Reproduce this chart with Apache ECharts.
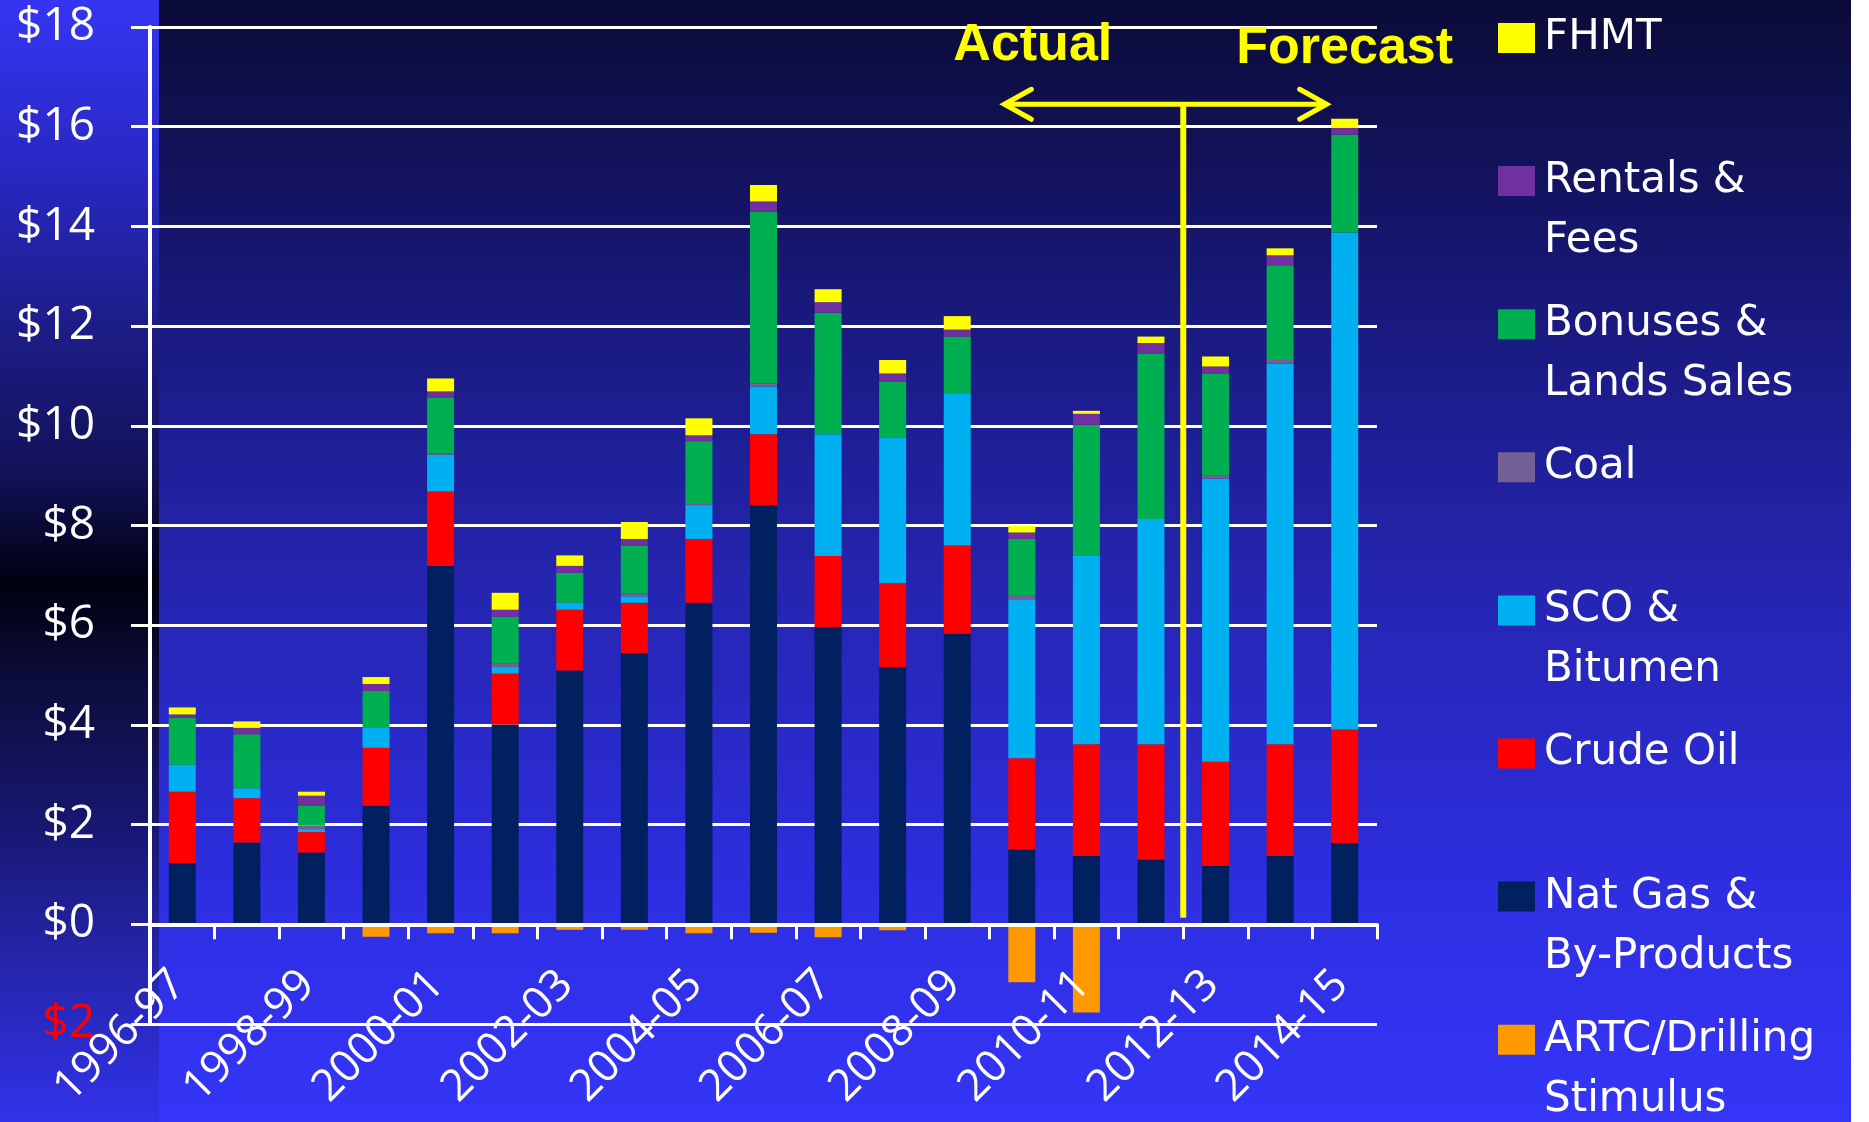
<!DOCTYPE html>
<html>
<head>
<meta charset="utf-8">
<script src="https://cdn.jsdelivr.net/npm/echarts@6/dist/echarts.min.js"></script>
<style>
html,body{margin:0;padding:0;background:#ffffff;}
#main{width:1869px;height:1122px;}
</style>
</head>
<body>
<div id="main"></div>
<script>
// ---- data ----
const categories = ['1996-97','1997-98','1998-99','1999-00','2000-01','2001-02','2002-03','2003-04','2004-05','2005-06','2006-07','2007-08','2008-09','2009-10','2010-11','2011-12','2012-13','2013-14','2014-15'];
const natGas     = [1.23,1.64,1.44,2.38,7.19,4.01,5.09,5.44,6.45,8.41,5.96,5.16,5.83,1.50,1.37,1.30,1.17,1.37,1.63];
const crudeOil   = [1.43,0.89,0.41,1.16,1.49,1.02,1.22,1.01,1.28,1.42,1.43,1.68,1.77,1.83,2.24,2.31,2.09,2.24,2.28];
const scoBitumen = [0.54,0.20,0.06,0.40,0.74,0.13,0.14,0.13,0.68,0.96,2.44,2.92,3.04,3.19,3.79,4.52,5.68,7.64,9.97];
const coal       = [0.00,0.00,0.07,0.00,0.02,0.08,0.00,0.06,0.02,0.06,0.00,0.00,0.00,0.07,0.00,0.00,0.07,0.07,0.00];
const bonuses    = [0.94,1.08,0.40,0.74,1.13,0.93,0.60,0.95,1.26,3.45,2.44,1.13,1.15,1.14,2.62,3.32,2.04,1.90,1.96];
const rentals    = [0.07,0.13,0.20,0.14,0.12,0.14,0.14,0.14,0.12,0.20,0.21,0.16,0.14,0.13,0.22,0.21,0.14,0.20,0.14];
const fhmt       = [0.14,0.13,0.08,0.14,0.26,0.34,0.21,0.34,0.34,0.33,0.26,0.27,0.27,0.13,0.06,0.13,0.20,0.14,0.18];
const artc       = [0,0,0,-0.25,-0.18,-0.18,-0.11,-0.11,-0.18,-0.17,-0.26,-0.12,0,-1.16,-1.77,0,0,0,0];

const yTicks = {min:-2, max:18, interval:2};

const seriesDefs = [
  {name:'Nat Gas & By-Products', label:'Nat Gas &\nBy-Products', data:natGas, color:'#002060'},
  {name:'Crude Oil', label:'Crude Oil', data:crudeOil, color:'#FF0000'},
  {name:'SCO & Bitumen', label:'SCO &\nBitumen', data:scoBitumen, color:'#00B0F0'},
  {name:'Coal', label:'Coal', data:coal, color:'#735E95'},
  {name:'Bonuses & Lands Sales', label:'Bonuses &\nLands Sales', data:bonuses, color:'#00B050'},
  {name:'Rentals & Fees', label:'Rentals &\nFees', data:rentals, color:'#7030A0'},
  {name:'FHMT', label:'FHMT', data:fhmt, color:'#FFFF00'},
  {name:'ARTC/Drilling Stimulus', label:'ARTC/Drilling\nStimulus', data:artc, color:'#FF9900'}
];
const legendOrder = ['FHMT','Rentals & Fees','Bonuses & Lands Sales','Coal','SCO & Bitumen','Crude Oil','Nat Gas & By-Products','ARTC/Drilling Stimulus'];

const chart = echarts.init(document.getElementById('main'));

const labelMap = {};
seriesDefs.forEach(s => labelMap[s.name] = s.label);

const legends = legendOrder.map((name, i) => ({
  data: [name],
  orient: 'vertical',
  left: 1498,
  top: 38 + i * 143.1 - 90,
  padding: 0,
  icon: 'rect',
  itemWidth: 37,
  itemHeight: 30,
  selectedMode: false,
  formatter: n => {
    const parts = labelMap[n].split('\n');
    return '\n' + parts[0] + '\n' + (parts[1] || '');
  },
  textStyle: {color:'#ffffff', fontFamily:'DejaVu Sans', fontSize:42, lineHeight:60, padding:[0,0,0,4]}
}));

const bgGraphics = [
  {type:'rect', silent:true, z:-100, shape:{x:0,y:0,width:159,height:1122},
   style:{fill:{type:'linear',x:0,y:0,x2:0,y2:1,colorStops:[
     {offset:0,color:'#3535f2'},{offset:0.15,color:'#2828c4'},{offset:0.3,color:'#1c1c84'},
     {offset:0.42,color:'#12125a'},{offset:0.52,color:'#000010'},{offset:0.6,color:'#0c0c3a'},
     {offset:0.72,color:'#16166a'},{offset:0.85,color:'#2424a8'},{offset:1,color:'#3232ea'}]}}},
  {type:'rect', silent:true, z:-100, shape:{x:159,y:0,width:1692,height:1122},
   style:{fill:{type:'linear',x:0,y:0,x2:0,y2:1,colorStops:[
     {offset:0,color:'#0b0b38'},{offset:0.3,color:'#1a1a82'},{offset:0.55,color:'#2626b6'},
     {offset:0.8,color:'#2e2ee2'},{offset:1,color:'#3535f8'}]}}},
  {type:'rect', silent:true, z:-100, shape:{x:1851,y:0,width:18,height:1122}, style:{fill:'#ffffff'}}
];

const gridH = 997;
const zeroOffset = -gridH * (0 - yTicks.min) / (yTicks.max - yTicks.min);

const option = {
  animation: false,
  backgroundColor: 'transparent',
  grid: {left:150, top:27, width:1227, height:gridH, containLabel:false, outerBoundsMode:'none'},
  legend: legends,
  xAxis: {
    type:'category',
    data: categories,
    offset: zeroOffset,
    z: 5,
    axisLine: {show:true, onZero:false, lineStyle:{color:'#ffffff', width:4}},
    axisTick: {show:true, length:15, interval:0, lineStyle:{color:'#ffffff', width:3}},
    axisLabel: {interval:1, rotate:45, margin:50, color:'#ffffff', fontFamily:'Open Sans', fontSize:44, hideOverlap:false, padding:[0,5,10,0]},
    splitLine: {show:false}
  },
  yAxis: {
    type:'value',
    min: yTicks.min, max: yTicks.max, interval: yTicks.interval,
    axisLine: {show:true, lineStyle:{color:'#ffffff', width:4}},
    axisTick: {show:true, length:19, lineStyle:{color:'#ffffff', width:3}},
    splitLine: {show:true, lineStyle:{color:'#ffffff', width:3}},
    axisLabel: {
      margin: 55, color:'#ffffff', fontFamily:'Open Sans', fontSize:46,
      formatter: v => v < 0 ? '{neg|$' + Math.abs(v) + '}' : '$' + v,
      rich: {neg:{color:'#FF0000', fontFamily:'Open Sans', fontSize:46}}
    }
  },
  graphic: bgGraphics,
  series: seriesDefs.map(s => ({
    name: s.name,
    type: 'bar',
    stack: 'total',
    barWidth: 27,
    data: s.data,
    itemStyle: {color: s.color},
    emphasis: {disabled:true}
  }))
};
chart.setOption(option);

// annotations positioned through the chart's own scales
const px = (cat, v) => chart.convertToPixel({xAxisIndex:0, yAxisIndex:0}, [cat, v]);
const catW = px('1997-98',0)[0] - px('1996-97',0)[0];
const divX = (px('2011-12',0)[0] + px('2012-13',0)[0]) / 2;
const arrowY = px('2012-13', 16.45)[1];
const lineBottom = px('2012-13', 0.13)[1];
const leftTip = px('2009-10',0)[0] - 0.27 * catW;
const rightTip = px('2014-15',0)[0] - 0.28 * catW;
const actualX = px('2009-10',0)[0] + 0.17 * catW;
const forecastX = px('2014-15',0)[0];
const textY1 = px('2009-10', 17.62)[1];
const textY2 = px('2014-15', 17.56)[1];
const yellow = '#FFFF00';
const lw = 5;

chart.setOption({
  graphic: bgGraphics.concat([
    {type:'line', silent:true, z:50, shape:{x1:divX, y1:arrowY, x2:divX, y2:lineBottom}, style:{stroke:yellow, lineWidth:6}},
    {type:'line', silent:true, z:50, shape:{x1:leftTip+2, y1:arrowY, x2:rightTip-2, y2:arrowY}, style:{stroke:yellow, lineWidth:lw}},
    {type:'polyline', silent:true, z:50, shape:{points:[[leftTip+27,arrowY-15],[leftTip,arrowY],[leftTip+27,arrowY+15]]}, style:{stroke:yellow, lineWidth:lw, lineCap:'round', lineJoin:'miter', fill:null}},
    {type:'polyline', silent:true, z:50, shape:{points:[[rightTip-27,arrowY-15],[rightTip,arrowY],[rightTip-27,arrowY+15]]}, style:{stroke:yellow, lineWidth:lw, lineCap:'round', lineJoin:'miter', fill:null}},
    {type:'text', silent:true, z:50, x:actualX, y:textY1, style:{text:'Actual', fill:yellow, font:'bold 52px "Liberation Sans", Arial, sans-serif', align:'center', verticalAlign:'middle'}},
    {type:'text', silent:true, z:50, x:forecastX, y:textY2, style:{text:'Forecast', fill:yellow, font:'bold 52px "Liberation Sans", Arial, sans-serif', align:'center', verticalAlign:'middle'}}
  ])
});
</script>
</body>
</html>
